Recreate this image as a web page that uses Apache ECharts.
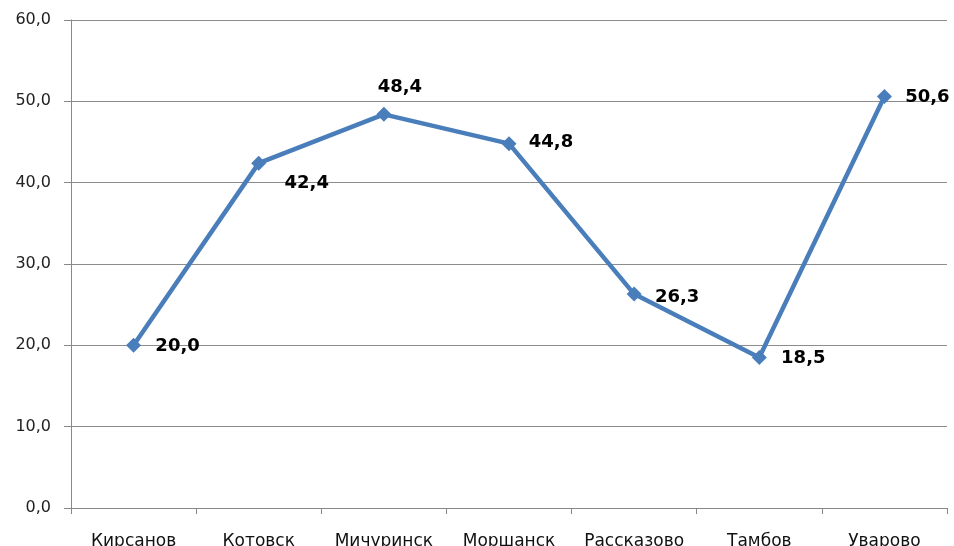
<!DOCTYPE html>
<html><head><meta charset="utf-8">
<script src="https://cdn.jsdelivr.net/npm/echarts@6/dist/echarts.min.js"></script>
<style>html,body{margin:0;padding:0;background:#fff}#c{width:954px;height:546px}</style>
</head><body><div id="c"></div>
<script>
const categories = ['Кирсанов','Котовск','Мичуринск','Моршанск','Рассказово','Тамбов','Уварово'];
const values = [20.0, 42.4, 48.4, 44.8, 26.3, 18.5, 50.6];

// label placement (style only): offset of label centre from point
const labelOffsets = [[44,1],[48,20],[16,-27],[42,-1],[43,3],[44,1],[43,1]];

const fmt = v => v.toFixed(1).replace('.', ',');
const chart = echarts.init(document.getElementById('c'));
const data = values.map((v, i) => ({ value: v, label: { position: 'inside', offset: labelOffsets[i] } }));
chart.setOption({
  animation: false,
  grid: { left: 71, right: 7, top: 20, bottom: 38, containLabel: false, outerBoundsMode: 'none' },
  xAxis: {
    type: 'category', data: categories, boundaryGap: true,
    axisLine: { lineStyle: { color: '#888', width: 1 } },
    axisTick: { show: true, length: 6, lineStyle: { color: '#888' } },
    axisLabel: { color: '#111', fontFamily: 'DejaVu Sans', fontSize: 17, margin: 25, interval: 0 }
  },
  yAxis: {
    type: 'value', min: 0, max: 60, interval: 10,
    axisLine: { show: true, lineStyle: { color: '#888', width: 1 } },
    axisTick: { show: true, length: 7, lineStyle: { color: '#888' } },
    splitLine: { lineStyle: { color: '#8c8c8c', width: 1 } },
    axisLabel: { color: '#222', fontFamily: 'DejaVu Sans', fontSize: 16, margin: 20, formatter: v => fmt(v) }
  },
  series: [{
    type: 'line', data: data,
    symbol: 'diamond', symbolSize: 15,
    lineStyle: { color: '#4a7ebb', width: 4.5 },
    itemStyle: { color: '#4a7ebb' },
    label: { show: true, color: '#000', fontWeight: 'bold', fontFamily: 'DejaVu Sans', fontSize: 18, formatter: p => fmt(p.value) }
  }]
});
</script></body></html>
